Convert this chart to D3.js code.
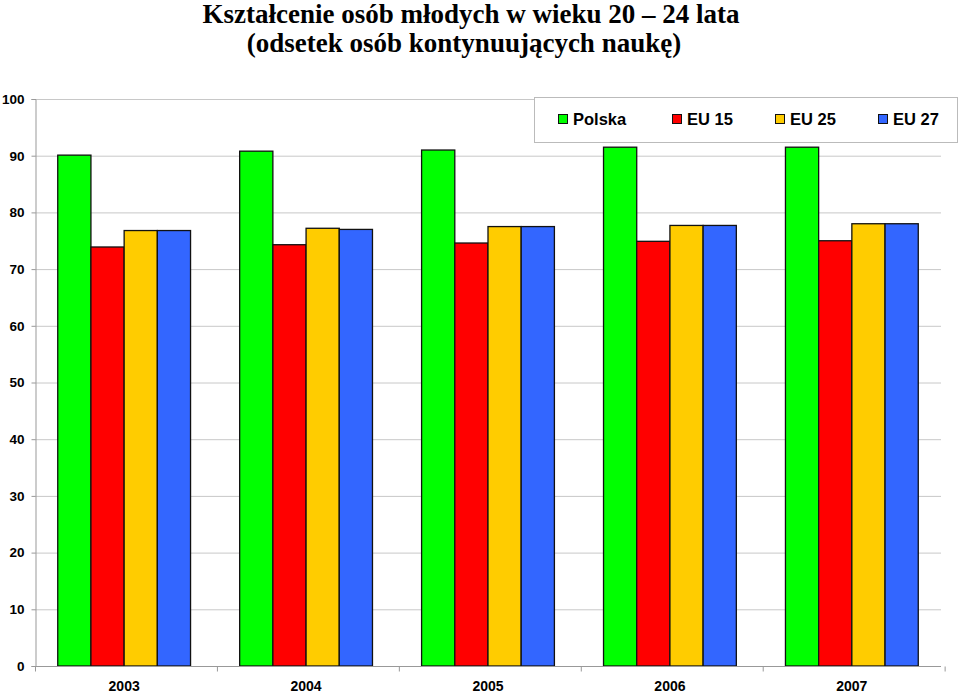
<!DOCTYPE html>
<html><head><meta charset="utf-8">
<script src="https://cdn.jsdelivr.net/npm/d3@7"></script>
<style>body{margin:0;background:#fff}svg{display:block}</style>
</head><body>
<script>
const years = ["2003","2004","2005","2006","2007"];
const seriesNames = ["Polska","EU 15","EU 25","EU 27"];
const polska = [90.1, 90.8, 91.0, 91.5, 91.5];
const eu15 = [73.9, 74.3, 74.6, 74.9, 75.0];
const eu25 = [76.8, 77.2, 77.5, 77.7, 78.0];
const eu27 = [76.8, 77.0, 77.5, 77.7, 78.0];
const yTicks = [0,10,20,30,40,50,60,70,80,90,100];
const colors = ["#00FF00","#FF0000","#FFCC00","#3366FF"];
const values = [polska, eu15, eu25, eu27];

(function(){
const W=960,H=693;
const svg=d3.select("body").append("svg").attr("width",W).attr("height",H);
const pL=35,pR=941,pT=99,pB=666;

svg.append("text").attr("x",471).attr("y",23).attr("text-anchor","middle")
 .attr("font-family","Liberation Serif, Times New Roman, serif").attr("font-weight","bold").attr("font-size",27)
 .text("Kształcenie osób młodych w wieku 20 – 24 lata");
svg.append("text").attr("x",464).attr("y",52).attr("text-anchor","middle")
 .attr("font-family","Liberation Serif, Times New Roman, serif").attr("font-weight","bold").attr("font-size",27)
 .text("(odsetek osób kontynuujących naukę)");

const y=d3.scaleLinear().domain([0,100]).range([pB,pT]);
const x0=d3.scaleBand().domain(years).range([pL,pR]).paddingInner(0.27).paddingOuter(0.125);
const x1=d3.scaleBand().domain(seriesNames).range([0,x0.bandwidth()]);

svg.append("g").selectAll("line").data(yTicks.filter(d=>d>0)).join("line")
 .attr("x1",pL).attr("x2",pR).attr("y1",d=>y(d)+0.5).attr("y2",d=>y(d)+0.5)
 .attr("stroke","#c8c8c8").attr("stroke-width",1);

const ya=svg.append("g").attr("transform",`translate(${pL+0.5},0)`)
 .call(d3.axisLeft(y).tickValues(yTicks).tickSize(4).tickPadding(7));
ya.select(".domain").attr("stroke","#999");
ya.selectAll(".tick line").attr("stroke","#999");
ya.selectAll("text").attr("font-family","Liberation Sans, Arial, sans-serif").attr("font-weight","bold").attr("font-size",13.5).attr("fill","#000");

const data=years.map((yr,i)=>({yr,vals:seriesNames.map((s,j)=>({s,j,v:values[j][i]}))}));
svg.append("g").selectAll("g").data(data).join("g")
 .attr("transform",d=>`translate(${x0(d.yr)},0)`)
 .selectAll("rect").data(d=>d.vals).join("rect")
 .attr("x",d=>x1(d.s)).attr("width",x1.bandwidth())
 .attr("y",d=>y(d.v)).attr("height",d=>pB-y(d.v))
 .attr("fill",d=>colors[d.j]).attr("stroke","#111").attr("stroke-width",1.3);

const step=x0.step();
const xa=svg.append("g").attr("transform",`translate(0,${pB+0.5})`);
xa.append("line").attr("x1",pL).attr("x2",pR).attr("stroke","#999");
xa.selectAll("line.t").data(d3.range(years.length+1)).join("line").attr("class","t")
 .attr("x1",i=>pL+i*step+0.5).attr("x2",i=>pL+i*step+0.5).attr("y1",0).attr("y2",5).attr("stroke","#999");
xa.selectAll("text").data(years).join("text")
 .attr("x",d=>x0(d)+x0.bandwidth()/2).attr("y",24.5).attr("text-anchor","middle")
 .attr("font-family","Liberation Sans, Arial, sans-serif").attr("font-weight","bold").attr("font-size",14).text(d=>d);

const lg=svg.append("g");
lg.append("rect").attr("x",534.5).attr("y",97.5).attr("width",423).attr("height",45).attr("fill","#fff").attr("stroke","#bbb");
const lx=[558,672,775,878];
seriesNames.forEach((s,i)=>{
  lg.append("rect").attr("x",lx[i]+0.5).attr("y",114.5).attr("width",9).attr("height",9).attr("fill",colors[i]).attr("stroke","#111");
  lg.append("text").attr("x",lx[i]+15).attr("y",124.5).attr("font-family","Liberation Sans, Arial, sans-serif")
   .attr("font-weight","bold").attr("font-size",16.5).text(s);
});
})();
</script>
</body></html>
